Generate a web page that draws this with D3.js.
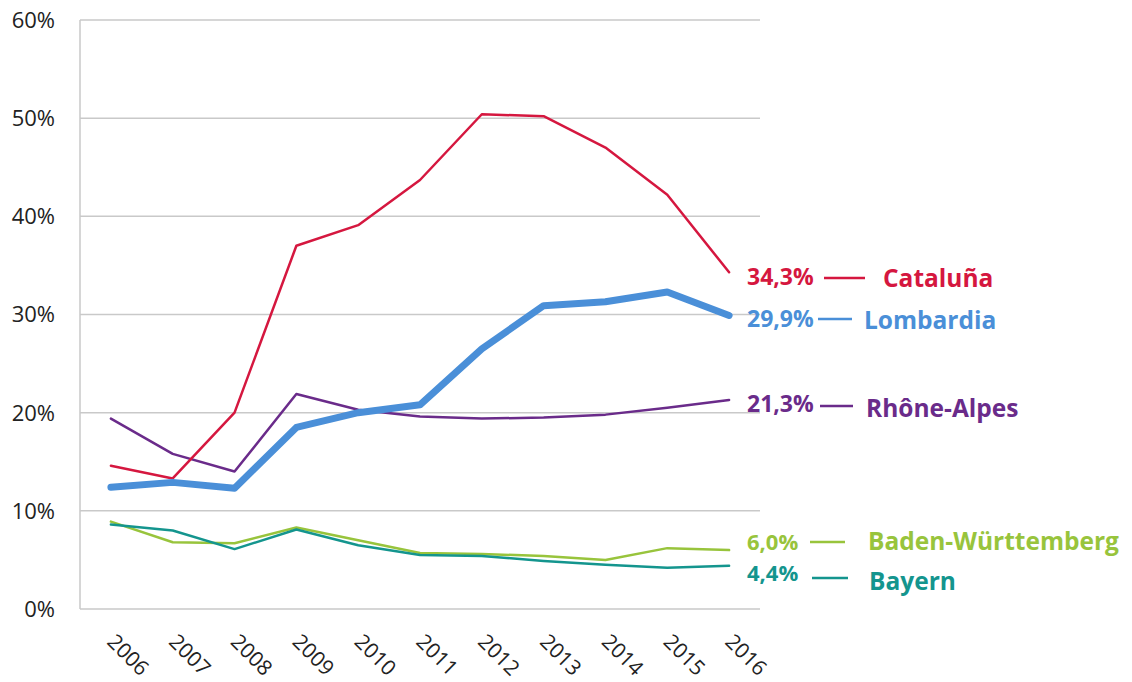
<!DOCTYPE html>
<html>
<head>
<meta charset="utf-8">
<script src="https://cdn.jsdelivr.net/npm/d3@7"></script>
<style>
  html, body { margin: 0; padding: 0; background: #fff; }
  svg { display: block; font-family: "Open Sans", "Noto Sans", sans-serif; }
</style>
</head>
<body>
<svg id="chart" width="1132" height="682"></svg>
<script>
// ---- data ----
const years = [2006, 2007, 2008, 2009, 2010, 2011, 2012, 2013, 2014, 2015, 2016];
const yTicks = [0, 10, 20, 30, 40, 50, 60];
const regions = ["Cataluña", "Lombardia", "Rhône-Alpes", "Baden-Württemberg", "Bayern"];
const cataluna  = [14.6, 13.3, 20.0, 37.0, 39.1, 43.7, 50.4, 50.2, 47.0, 42.2, 34.3];
const lombardia = [12.4, 12.9, 12.3, 18.5, 20.0, 20.8, 26.5, 30.9, 31.3, 32.3, 29.9];
const rhoneAlpes = [19.4, 15.8, 14.0, 21.9, 20.3, 19.6, 19.4, 19.5, 19.8, 20.5, 21.3];
const badenW    = [8.9, 6.8, 6.7, 8.3, 7.0, 5.7, 5.6, 5.4, 5.0, 6.2, 6.0];
const bayern    = [8.6, 8.0, 6.1, 8.1, 6.5, 5.5, 5.4, 4.9, 4.5, 4.2, 4.4];
const endLabels = ["34,3%", "29,9%", "21,3%", "6,0%", "4,4%"];

// ---- styling / layout ----
const colors = ["#d5173f", "#4a8fd8", "#6a2b8a", "#98c43c", "#14958e"];
const widths = [2.5, 7, 2.5, 2.5, 2.5];
// per series: value label y, value font size, dash x0, x1, dash y, name x, name y (centers)
const layout = [
  {vy: 277, vs: 23, d0: 824, d1: 865, dy: 278, nx: 883, ny: 278},
  {vy: 319, vs: 23, d0: 818, d1: 852, dy: 319, nx: 864, ny: 320},
  {vy: 404, vs: 23, d0: 820, d1: 853, dy: 406, nx: 866, ny: 408},
  {vy: 542.5, vs: 22, d0: 810, d1: 845, dy: 542, nx: 868, ny: 541},
  {vy: 573, vs: 22, d0: 812, d1: 848, dy: 578, nx: 869, ny: 581}
];

const series = [cataluna, lombardia, rhoneAlpes, badenW, bayern];

const svg = d3.select("#chart");
const x = d3.scalePoint().domain(years).range([80, 760]).padding(0.5);
const y = d3.scaleLinear().domain([0, 60]).range([609, 20]);

// gridlines
svg.append("g").selectAll("line").data(yTicks).join("line")
  .attr("x1", 80).attr("x2", 760)
  .attr("y1", d => y(d)).attr("y2", d => y(d))
  .attr("stroke", "#c9c9c9").attr("stroke-width", 1.5);
// left axis line
svg.append("line").attr("x1", 80).attr("x2", 80)
  .attr("y1", y(60)).attr("y2", y(0))
  .attr("stroke", "#c9c9c9").attr("stroke-width", 1.5);

// y tick labels
svg.append("g").selectAll("text").data(yTicks).join("text")
  .attr("x", 55).attr("y", d => y(d)).attr("dy", "0.36em")
  .attr("text-anchor", "end").attr("font-size", 22).attr("fill", "#222")
  .text(d => d + "%");

// x tick labels
svg.append("g").selectAll("text").data(years).join("text")
  .attr("transform", d => `translate(${x(d) - 5},643) rotate(45)`)
  .attr("text-anchor", "start").attr("font-size", 21).attr("fill", "#222")
  .text(d => d);

// lines
const line = d3.line().x((d, i) => x(years[i])).y(d => y(d));
const order = [3, 4, 2, 0, 1];
order.forEach(k => {
  svg.append("path").datum(series[k])
    .attr("d", line).attr("fill", "none")
    .attr("stroke", colors[k]).attr("stroke-width", widths[k])
    .attr("stroke-linejoin", "round").attr("stroke-linecap", "round");
});

// labels
regions.forEach((name, k) => {
  const L = layout[k];
  svg.append("text").attr("x", 747).attr("y", L.vy).attr("dy", "0.36em")
    .attr("font-size", L.vs).attr("font-weight", 700).attr("fill", colors[k])
    .text(endLabels[k]);
  svg.append("line").attr("x1", L.d0).attr("x2", L.d1)
    .attr("y1", L.dy).attr("y2", L.dy)
    .attr("stroke", colors[k]).attr("stroke-width", 2.5);
  svg.append("text").attr("x", L.nx).attr("y", L.ny).attr("dy", "0.36em")
    .attr("font-size", 24.5).attr("font-weight", 700).attr("fill", colors[k])
    .text(name);
});
</script>
</body>
</html>
